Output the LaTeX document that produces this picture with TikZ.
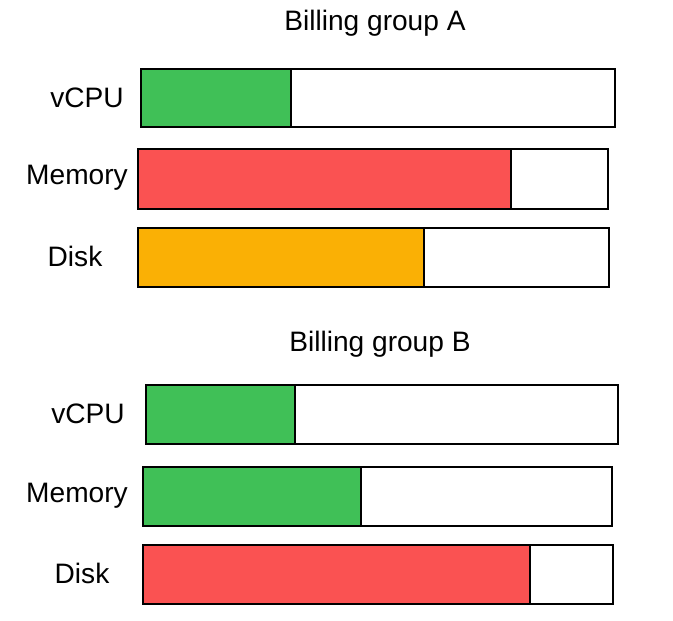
\documentclass[tikz,border=0pt]{standalone}
\usepackage{fontspec}
\setmainfont{Liberation Sans}
\tikzset{
  lbl/.style={font=\fontsize{16}{18}\selectfont},
  ttl/.style={font=\fontsize{16}{18}\selectfont},
  bar/.style={draw=black,line width=1.7pt,fill=white},
  part/.style={draw=black,line width=1.7pt}
}
\definecolor{cgreen}{HTML}{40C057}
\definecolor{cred}{HTML}{FA5252}
\definecolor{corange}{HTML}{FAB005}
\begin{document}
\begin{tikzpicture}[x=0.02cm,y=-0.02cm]
\useasboundingbox (0,0) rectangle (673,621);
% group A
\node(titleA) at (375,23)[ttl]  {Billing group A};
\node(cpuA) at (87,98)[lbl]     {vCPU};
\node(memA) at (77,178)[lbl]    {Memory};
\node(diskA) at (75,256)[lbl]   {Disk};
\draw[bar] (141,69) rectangle (615,127);
\draw[part,fill=cgreen] (141,69) rectangle (291,127);
\draw[bar] (138,149) rectangle (608,209);
\draw[part,fill=cred] (138,149) rectangle (511,209);
\draw[bar] (138,228) rectangle (609,287);
\draw[part,fill=corange] (138,228) rectangle (424,287);
% group B
\node(titleB) at (380,344)[ttl] {Billing group B};
\node(cpuB) at (88,414)[lbl]    {vCPU};
\node(memB) at (77,496)[lbl]    {Memory};
\node(diskB) at (82,573)[lbl]   {Disk};
\draw[bar] (146,385) rectangle (618,444);
\draw[part,fill=cgreen] (146,385) rectangle (295,444);
\draw[bar] (143,467) rectangle (612,526);
\draw[part,fill=cgreen] (143,467) rectangle (361,526);
\draw[bar] (143,545) rectangle (613,604);
\draw[part,fill=cred] (143,545) rectangle (530,604);
\end{tikzpicture}
\end{document}
